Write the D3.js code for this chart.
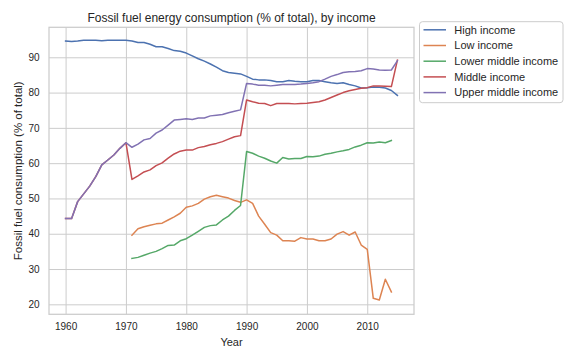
<!DOCTYPE html>
<html>
<head>
<meta charset="utf-8">
<script src="https://cdn.jsdelivr.net/npm/d3@7"></script>
<style>
  body { margin: 0; background: #fff; }
  svg { font-family: "Liberation Sans", Arial, sans-serif; }
</style>
</head>
<body>
<svg id="chart" width="576" height="360"></svg>
<script>
var years = d3.range(1960, 2016);

var highIncome = [94.6, 94.5, 94.6, 94.8, 94.8, 94.8, 94.7, 94.8, 94.8, 94.8,
  94.8, 94.6, 94.2, 94.2, 93.7, 93.0, 93.0, 92.5, 91.9, 91.7,
  91.2, 90.4, 89.6, 88.9, 88.1, 87.2, 86.2, 85.7, 85.5, 85.3,
  84.6, 83.8, 83.6, 83.6, 83.4, 83.1, 83.1, 83.4, 83.2, 83.1,
  83.1, 83.4, 83.4, 83.1, 82.8, 82.6, 82.8, 82.3, 81.9, 81.3,
  81.4, 81.6, 81.5, 81.3, 80.6, 79.2];

var lowIncome = [null, null, null, null, null, null, null, null, null, null,
  null, 39.6, 41.4, 42.0, 42.4, 42.8, 43.0, 43.9, 44.8, 45.8,
  47.5, 47.9, 48.6, 49.8, 50.5, 50.9, 50.5, 50.1, 49.4, 48.9,
  49.6, 48.6, 45.0, 42.7, 40.3, 39.6, 38.0, 38.0, 37.9, 38.9,
  38.5, 38.5, 38.0, 38.0, 38.5, 39.9, 40.6, 39.6, 40.5, 36.8,
  35.6, 21.7, 21.2, 27.1, 23.5, null];

var lowerMiddleIncome = [null, null, null, null, null, null, null, null, null, null,
  null, 33.0, 33.3, 33.9, 34.5, 35.0, 35.8, 36.7, 36.8, 38.0,
  38.6, 39.6, 40.7, 41.8, 42.3, 42.5, 43.9, 45.0, 46.6, 48.0,
  63.3, 62.8, 62.0, 61.4, 60.6, 60.0, 61.6, 61.2, 61.3, 61.3,
  61.9, 61.8, 62.0, 62.5, 62.8, 63.2, 63.5, 63.9, 64.6, 65.1,
  65.8, 65.7, 66.0, 65.8, 66.4, null];

var middleIncome = [44.3, 44.3, 49.1, 51.3, 53.5, 56.2, 59.5, 60.9, 62.3, 64.2,
  65.8, 55.4, 56.4, 57.5, 58.1, 59.3, 60.1, 61.4, 62.6, 63.4,
  63.7, 63.7, 64.4, 64.7, 65.2, 65.6, 66.1, 66.8, 67.5, 67.8,
  77.9, 77.4, 77.0, 76.9, 76.3, 76.9, 76.9, 76.9, 76.8, 76.9,
  77.0, 77.2, 77.4, 77.9, 78.6, 79.3, 80.0, 80.5, 80.9, 81.2,
  81.4, 81.9, 81.9, 81.8, 81.7, 89.2];

var upperMiddleIncome = [44.3, 44.3, 49.1, 51.3, 53.5, 56.2, 59.5, 60.9, 62.3, 64.2,
  65.8, 64.5, 65.4, 66.6, 67.0, 68.5, 69.4, 70.8, 72.2, 72.4,
  72.6, 72.4, 72.8, 72.8, 73.4, 73.6, 73.8, 74.3, 74.7, 75.1,
  82.6, 82.4, 82.1, 82.1, 81.9, 82.1, 82.3, 82.3, 82.3, 82.4,
  82.6, 82.8, 83.1, 83.8, 84.6, 85.1, 85.7, 85.9, 86.0, 86.2,
  86.8, 86.7, 86.4, 86.3, 86.4, 89.0];

var seriesNames = ["High income", "Low income", "Lower middle income", "Middle income", "Upper middle income"];
var seriesValues = [highIncome, lowIncome, lowerMiddleIncome, middleIncome, upperMiddleIncome];
var colors = ["#4c72b0", "#dd8452", "#55a868", "#c44e52", "#8172b3"];
var xTicks = [1960, 1970, 1980, 1990, 2000, 2010];
var yTicks = [20, 30, 40, 50, 60, 70, 80, 90];

var plotLeft = 49, plotRight = 414, plotTop = 27.3, plotBottom = 314.3;
var textColor = "#262626", gridColor = "#cccccc";

var svg = d3.select("#chart");

var x = d3.scaleLinear().domain([1957.25, 2017.75]).range([plotLeft, plotRight]);
var y = d3.scaleLinear().domain([17.17, 98.5]).range([plotBottom, plotTop]);

// grid + tick labels via axes
var xAxis = svg.append("g")
  .attr("transform", "translate(0," + plotBottom + ")")
  .call(d3.axisBottom(x).tickValues(xTicks).tickFormat(d3.format("d"))
    .tickSize(-(plotBottom - plotTop)).tickPadding(9));
var yAxis = svg.append("g")
  .attr("transform", "translate(" + plotLeft + ",0)")
  .call(d3.axisLeft(y).tickValues(yTicks).tickSize(-(plotRight - plotLeft)).tickPadding(9.5));

[xAxis, yAxis].forEach(function(g){
  g.select(".domain").remove();
  g.selectAll(".tick line").attr("stroke", gridColor).attr("stroke-width", 1);
  g.selectAll(".tick text").attr("fill", textColor).attr("font-size", 10)
    .attr("font-family", "Liberation Sans, Arial, sans-serif");
});

// frame
svg.append("rect")
  .attr("x", plotLeft).attr("y", plotTop)
  .attr("width", plotRight - plotLeft).attr("height", plotBottom - plotTop)
  .attr("fill", "none").attr("stroke", gridColor).attr("stroke-width", 1.25);

var line = d3.line()
  .defined(function(d){ return d != null; })
  .x(function(d, i){ return x(years[i]); })
  .y(function(d){ return y(d); });

svg.append("g").selectAll("path")
  .data(seriesValues)
  .enter()
  .append("path")
  .attr("d", line)
  .attr("fill", "none")
  .attr("stroke", (d, i) => colors[i])
  .attr("stroke-width", 1.5)
  .attr("stroke-linejoin", "round")
  .attr("stroke-linecap", "square");

// title and axis labels
svg.append("text")
  .attr("x", (plotLeft + plotRight) / 2).attr("y", 21.8)
  .attr("text-anchor", "middle").attr("font-size", 12).attr("fill", textColor)
  .text("Fossil fuel energy consumption (% of total), by income");

svg.append("text")
  .attr("x", (plotLeft + plotRight) / 2).attr("y", 346)
  .attr("text-anchor", "middle").attr("font-size", 11).attr("fill", textColor)
  .text("Year");

svg.append("text")
  .attr("transform", "translate(21.5," + (plotTop + plotBottom) / 2 + ") rotate(-90)")
  .attr("text-anchor", "middle").attr("font-size", 11.5).attr("fill", textColor)
  .text("Fossil fuel consumption (% of total)");

// legend
var legend = svg.append("g");
legend.append("rect")
  .attr("x", 419.5).attr("y", 21.7).attr("width", 143.5).attr("height", 81)
  .attr("rx", 3).attr("fill", "#fff").attr("stroke", gridColor).attr("stroke-width", 1);

var items = legend.selectAll("g.item")
  .data(seriesNames)
  .enter()
  .append("g")
  .attr("class", "item")
  .attr("transform", (d, i) => "translate(0," + (29.8 + i * 15.7) + ")");

items.append("line")
  .attr("x1", 423.5).attr("x2", 446)
  .attr("stroke", (d, i) => colors[i]).attr("stroke-width", 1.5);

items.append("text")
  .attr("x", 454.3).attr("y", 3.8)
  .attr("font-size", 11).attr("fill", textColor)
  .text(d => d);
</script>
</body>
</html>
